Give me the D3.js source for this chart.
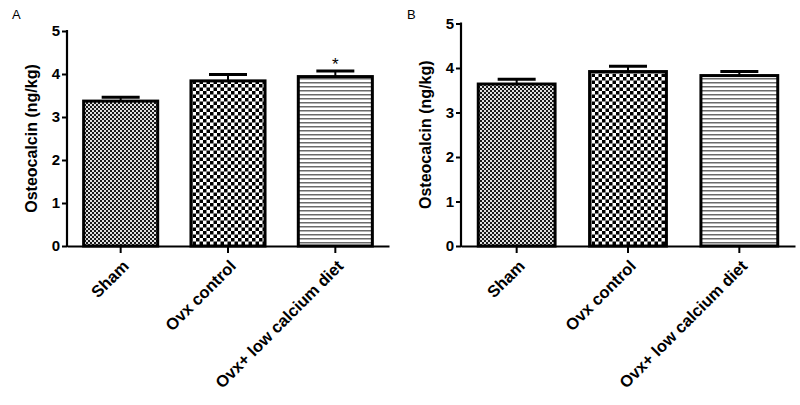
<!DOCTYPE html>
<html><head><meta charset="utf-8">
<script src="https://cdn.jsdelivr.net/npm/d3@7"></script>
<style>body{margin:0;background:#fff}svg{display:block}</style>
</head><body><svg id="c" width="800" height="405"></svg>
<script>
const categories = ["Sham", "Ovx control", "Ovx+ low calcium diet"];
const valuesA = [3.37, 3.84, 3.94];
const errorsA = [0.09, 0.15, 0.13];
const marksA = ["", "", "*"];
const valuesB = [3.64, 3.92, 3.83];
const errorsB = [0.11, 0.12, 0.09];
const marksB = ["", "", ""];
const yTicks = [0, 1, 2, 3, 4, 5];
const panelLabels = ["A", "B"];
const yTitle = "Osteocalcin (ng/kg)";
const patternIds = ["pSham", "pOvx", "pLow"];

const svg = d3.select("#c");
const defs = svg.append("defs");
// fine checker
let p = defs.append("pattern").attr("id","pSham").attr("patternUnits","userSpaceOnUse").attr("width",4).attr("height",4);
p.append("rect").attr("width",4).attr("height",4).attr("fill","#e0e0e0");
p.append("rect").attr("width",2).attr("height",2).attr("fill","#1a1a1a");
p.append("rect").attr("x",2).attr("y",2).attr("width",2).attr("height",2).attr("fill","#1a1a1a");
// coarse checker
p = defs.append("pattern").attr("id","pOvx").attr("patternUnits","userSpaceOnUse").attr("width",7).attr("height",7);
p.append("rect").attr("width",7).attr("height",7).attr("fill","#fff");
p.append("rect").attr("width",3.5).attr("height",3.5).attr("fill","#000");
p.append("rect").attr("x",3.5).attr("y",3.5).attr("width",3.5).attr("height",3.5).attr("fill","#000");
// horizontal lines
p = defs.append("pattern").attr("id","pLow").attr("patternUnits","userSpaceOnUse").attr("width",8).attr("height",4);
p.append("rect").attr("width",8).attr("height",4).attr("fill","#fff");
p.append("rect").attr("y",2).attr("width",8).attr("height",1.5).attr("fill","#6a6a6a");

const font = "Arial, 'Liberation Sans', sans-serif";

function panel(cfg) {
  const x = d3.scaleBand().domain(categories).range([cfg.x0, cfg.x1]).paddingInner(0.31).paddingOuter(0.155);
  const y = d3.scaleLinear().domain([0, 5]).range([cfg.yb, cfg.yt]);
  const g = svg.append("g");

  g.selectAll("rect.bar").data(cfg.values).join("rect")
    .attr("x", (d, i) => x(categories[i]))
    .attr("y", d => y(d))
    .attr("width", x.bandwidth())
    .attr("height", d => y(0) - y(d))
    .attr("fill", (d, i) => `url(#${patternIds[i]})`)
    .attr("stroke", "#000").attr("stroke-width", 3);

  cfg.values.forEach((v, i) => {
    const cx = x(categories[i]) + x.bandwidth() / 2;
    g.append("line").attr("x1", cx).attr("x2", cx).attr("y1", y(v)).attr("y2", y(v + cfg.errors[i]))
      .attr("stroke", "#000").attr("stroke-width", 2);
    g.append("line").attr("x1", cx - 19).attr("x2", cx + 19).attr("y1", y(v + cfg.errors[i])).attr("y2", y(v + cfg.errors[i]))
      .attr("stroke", "#000").attr("stroke-width", 3);
    if (cfg.marks[i]) {
      g.append("text").attr("x", cx).attr("y", y(v + cfg.errors[i]) - 1).attr("text-anchor", "middle")
        .attr("font-family", font).attr("font-size", 17).attr("fill", "#000").text(cfg.marks[i]);
    }
  });

  const ya = g.append("g").attr("transform", `translate(${cfg.x0},0)`)
    .call(d3.axisLeft(y).tickValues(yTicks).tickSize(5).tickSizeOuter(0).tickFormat(d3.format("d")));
  ya.select(".domain").attr("stroke-width", 2.2).attr("d", `M0,${cfg.yb + 1}V${cfg.yt - 1}`);
  ya.selectAll(".tick line").attr("stroke-width", 2);
  ya.selectAll(".tick text").attr("font-family", font).attr("font-size", 15).attr("font-weight", "bold").attr("x", -7);

  const xa = g.append("g").attr("transform", `translate(0,${cfg.yb})`)
    .call(d3.axisBottom(x).tickSize(7).tickSizeOuter(0));
  xa.select(".domain").attr("stroke-width", 2.2);
  xa.selectAll(".tick line").attr("stroke-width", 2);
  xa.selectAll(".tick text").attr("font-family", font).attr("font-size", 16.5).attr("font-weight", "bold")
    .attr("text-anchor", "end").attr("dy", "0.35em")
    .attr("transform", "translate(5,17) rotate(-45)").attr("y", 0).attr("x", 0);

  g.append("text").attr("transform", `translate(${cfg.titleX},${(cfg.yb + cfg.yt) / 2}) rotate(-90)`)
    .attr("text-anchor", "middle").attr("font-family", font).attr("font-size", 16).attr("font-weight", "bold")
    .text(yTitle);
  g.append("text").attr("x", cfg.labelX).attr("y", 19).attr("font-family", font).attr("font-size", 13)
    .text(cfg.label);
}

panel({x0: 67, x1: 389, yb: 246, yt: 31, values: valuesA, errors: errorsA, marks: marksA, titleX: 37, labelX: 12, label: panelLabels[0]});
panel({x0: 461, x1: 795, yb: 246, yt: 23.5, values: valuesB, errors: errorsB, marks: marksB, titleX: 431, labelX: 407, label: panelLabels[1]});
</script></body></html>
